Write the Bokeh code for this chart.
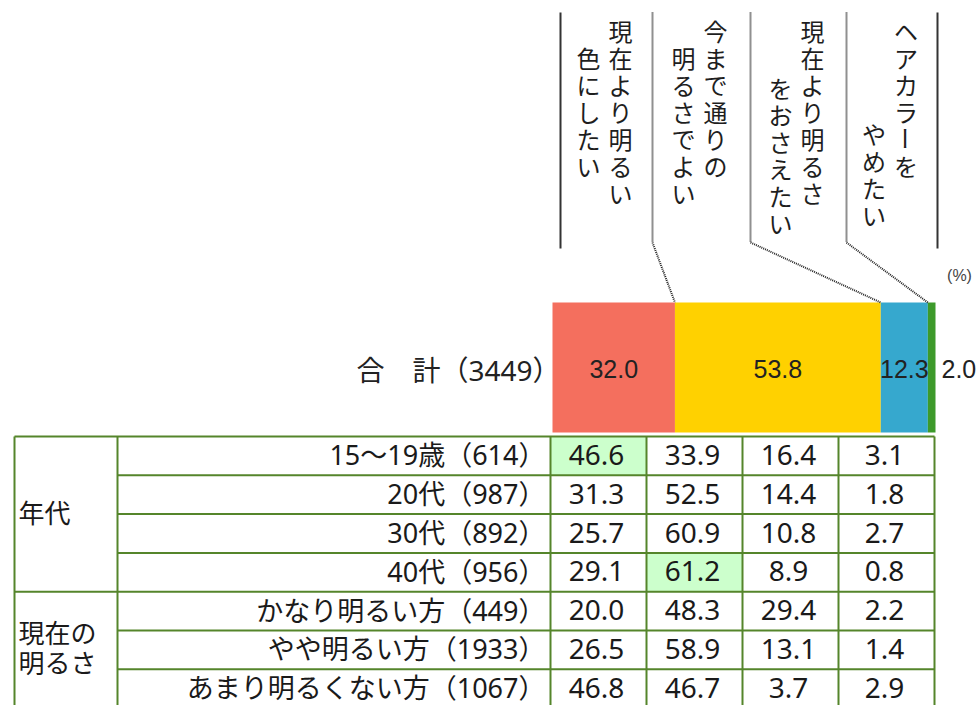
import math
from bokeh.plotting import figure
from bokeh.models import Range1d
from bokeh.embed import file_html
from bokeh.resources import INLINE
from bokeh.core.properties import value

# ---------------- data ----------------
answer_lines = [
    ["現在より明るい", "色にしたい"],
    ["今まで通りの", "明るさでよい"],
    ["現在より明るさ", "をおさえたい"],
    ["ヘアカラーを", "やめたい"],
]
total_label = "合　計（3449）"
total_values = [32.0, 53.8, 12.3, 2.0]
total_labels = ["32.0", "53.8", "12.3", "2.0"]
unit_label = "(%)"

group_labels = [["年代"], ["現在の", "明るさ"]]
group_sizes = [4, 3]
row_labels = [
    "15〜19歳（614）",
    "20代（987）",
    "30代（892）",
    "40代（956）",
    "かなり明るい方（449）",
    "やや明るい方（1933）",
    "あまり明るくない方（1067）",
]
table_values = [
    [46.6, 33.9, 16.4, 3.1],
    [31.3, 52.5, 14.4, 1.8],
    [25.7, 60.9, 10.8, 2.7],
    [29.1, 61.2, 8.9, 0.8],
    [20.0, 48.3, 29.4, 2.2],
    [26.5, 58.9, 13.1, 1.4],
    [46.8, 46.7, 3.7, 2.9],
]
highlight_cells = [(0, 0), (3, 1)]

# ---------------- styles / layout ----------------
seg_colors = ["#F46F5E", "#FFD100", "#36A8CE", "#3D9A2B"]
grid_color = "#55852B"
hl_color = "#CCFFCC"
txt_color = "#1a1a1a"
JP = value("Noto Sans CJK JP")
MIX = value("'Noto Sans', 'Noto Sans CJK JP'")
NUM = value("Noto Sans")
BARF = value("Liberation Sans")

W, H = 980, 705
p = figure(width=W, height=H, x_range=Range1d(0, W), y_range=Range1d(H, 0),
           output_backend="svg", toolbar_location=None, min_border=0,
           x_axis_location=None, y_axis_location=None)
p.grid.visible = False
p.outline_line_color = None
p.background_fill_color = "white"
p.border_fill_color = "white"

# ---- stacked bar ----
BAR_X0, BAR_X1, BAR_TOP, BAR_BOT = 552, 935, 302, 432
scale = (BAR_X1 - BAR_X0) / sum(total_values)
lefts, rights = [], []
acc = BAR_X0
for v in total_values:
    lefts.append(acc)
    acc += v * scale
    rights.append(acc)
p.quad(left=lefts, right=rights, top=BAR_TOP, bottom=BAR_BOT,
       fill_color=seg_colors, line_color=None)

BAR_MID = (BAR_TOP + BAR_BOT) / 2
in_x, in_t, out_x, out_t = [], [], [], []
for l, r, t in zip(lefts, rights, total_labels):
    if r - l > 30:
        in_x.append((l + r) / 2); in_t.append(t)
    else:
        out_x.append(r + 6); out_t.append(t)
p.text(x=in_x, y=[BAR_MID + 1] * len(in_x), text=in_t, text_align="center",
       text_baseline="middle", text_font=BARF, text_font_size="25px", text_color="#222")
p.text(x=out_x, y=[BAR_MID + 1] * len(out_x), text=out_t, text_align="left",
       text_baseline="middle", text_font=BARF, text_font_size="25px", text_color="#222")
p.text(x=[BAR_X0 + 8], y=[BAR_MID + 2], text=[total_label], text_align="right",
       text_baseline="middle", text_font=MIX, text_font_size="28px", text_color="#222")
p.text(x=[959], y=[275], text=[unit_label], text_align="center", text_baseline="middle",
       text_font=BARF, text_font_size="16px", text_color="#444")

# ---- header labels (vertical text) and leader lines ----
sep_x = [560, 652, 750, 846, 937]
LINE_TOP, BEND_Y = 12, 242
for x in (sep_x[0], sep_x[-1]):
    p.line(x=[x, x], y=[LINE_TOP, 248], line_color="#333", line_width=2)
for k in range(1, 4):
    p.line(x=[sep_x[k], sep_x[k], rights[k - 1]], y=[LINE_TOP, BEND_Y, BAR_TOP],
           line_color="#222", line_width=2, line_dash="1 1")

first_start, pitch = 30, 27
second_offset = [1.0, 1.0, 2.1, 3.8]
cx_, cy_, ct_, ca_ = [], [], [], []
for k, lines in enumerate(answer_lines):
    cx = (sep_x[k] + sep_x[k + 1]) / 2
    for j, line in enumerate(lines):
        x = cx + (14 if j == 0 else -18)
        y0 = first_start + (0 if j == 0 else second_offset[k] * pitch)
        for m, ch in enumerate(line):
            cx_.append(x); cy_.append(y0 + m * pitch); ct_.append(ch)
            ca_.append(-math.pi / 2 if ch == "ー" else 0.0)
p.text(x=cx_, y=cy_, text=ct_, angle=ca_, text_align="center", text_baseline="middle",
       text_font=JP, text_font_size="24px", text_color="#1e1e1e")

# ---- table ----
TL, CAT_R, LAB_R = 14, 117, 550
col_edges = [550, 646, 742, 838, 934]
ROW_TOP, ROW_H = 436, 38.8
n_rows = len(row_labels)
row_y = [ROW_TOP + i * ROW_H for i in range(n_rows + 1)]

# highlight cells
hl_l = [col_edges[c] for r, c in highlight_cells]
hl_r = [col_edges[c + 1] for r, c in highlight_cells]
hl_t = [row_y[r] for r, c in highlight_cells]
hl_b = [row_y[r + 1] for r, c in highlight_cells]
p.quad(left=hl_l, right=hl_r, top=hl_t, bottom=hl_b, fill_color=hl_color, line_color=None)

# group boundaries
group_starts = [0]
for s in group_sizes:
    group_starts.append(group_starts[-1] + s)

hx0, hx1, hy = [], [], []
for i in range(n_rows + 1):
    full = i in group_starts
    hx0.append(TL if full else CAT_R); hx1.append(col_edges[-1]); hy.append(row_y[i])
p.segment(x0=hx0, y0=hy, x1=hx1, y1=hy, line_color=grid_color, line_width=2)
vx = [TL, CAT_R] + col_edges
p.segment(x0=vx, y0=[row_y[0]] * len(vx), x1=vx, y1=[row_y[-1]] * len(vx),
          line_color=grid_color, line_width=2)

# group labels
gx, gy, gt = [], [], []
for g, lines in enumerate(group_labels):
    mid = (row_y[group_starts[g]] + row_y[group_starts[g + 1]]) / 2
    lh = 30
    for j, t in enumerate(lines):
        gx.append(TL + 4); gy.append(mid - 3 + (j - (len(lines) - 1) / 2) * lh); gt.append(t)
p.text(x=gx, y=gy, text=gt, text_align="left", text_baseline="middle",
       text_font=JP, text_font_size="26px", text_color=txt_color)

# row labels
rc = [(row_y[i] + row_y[i + 1]) / 2 for i in range(n_rows)]
p.text(x=[LAB_R - 5] * n_rows, y=[y - 1 for y in rc], text=row_labels, text_align="right",
       text_baseline="middle", text_font=MIX, text_font_size="27px", text_color=txt_color)

# numbers
nx, ny, nt = [], [], []
for i, row in enumerate(table_values):
    for c, v in enumerate(row):
        nx.append((col_edges[c] + col_edges[c + 1]) / 2 - 2)
        ny.append(rc[i] - 1)
        nt.append(f"{v:.1f}")
p.text(x=nx, y=ny, text=nt, text_align="center", text_baseline="middle",
       text_font=NUM, text_font_size="28px", text_color=txt_color)

open("out.html", "w").write(file_html(p, INLINE))
